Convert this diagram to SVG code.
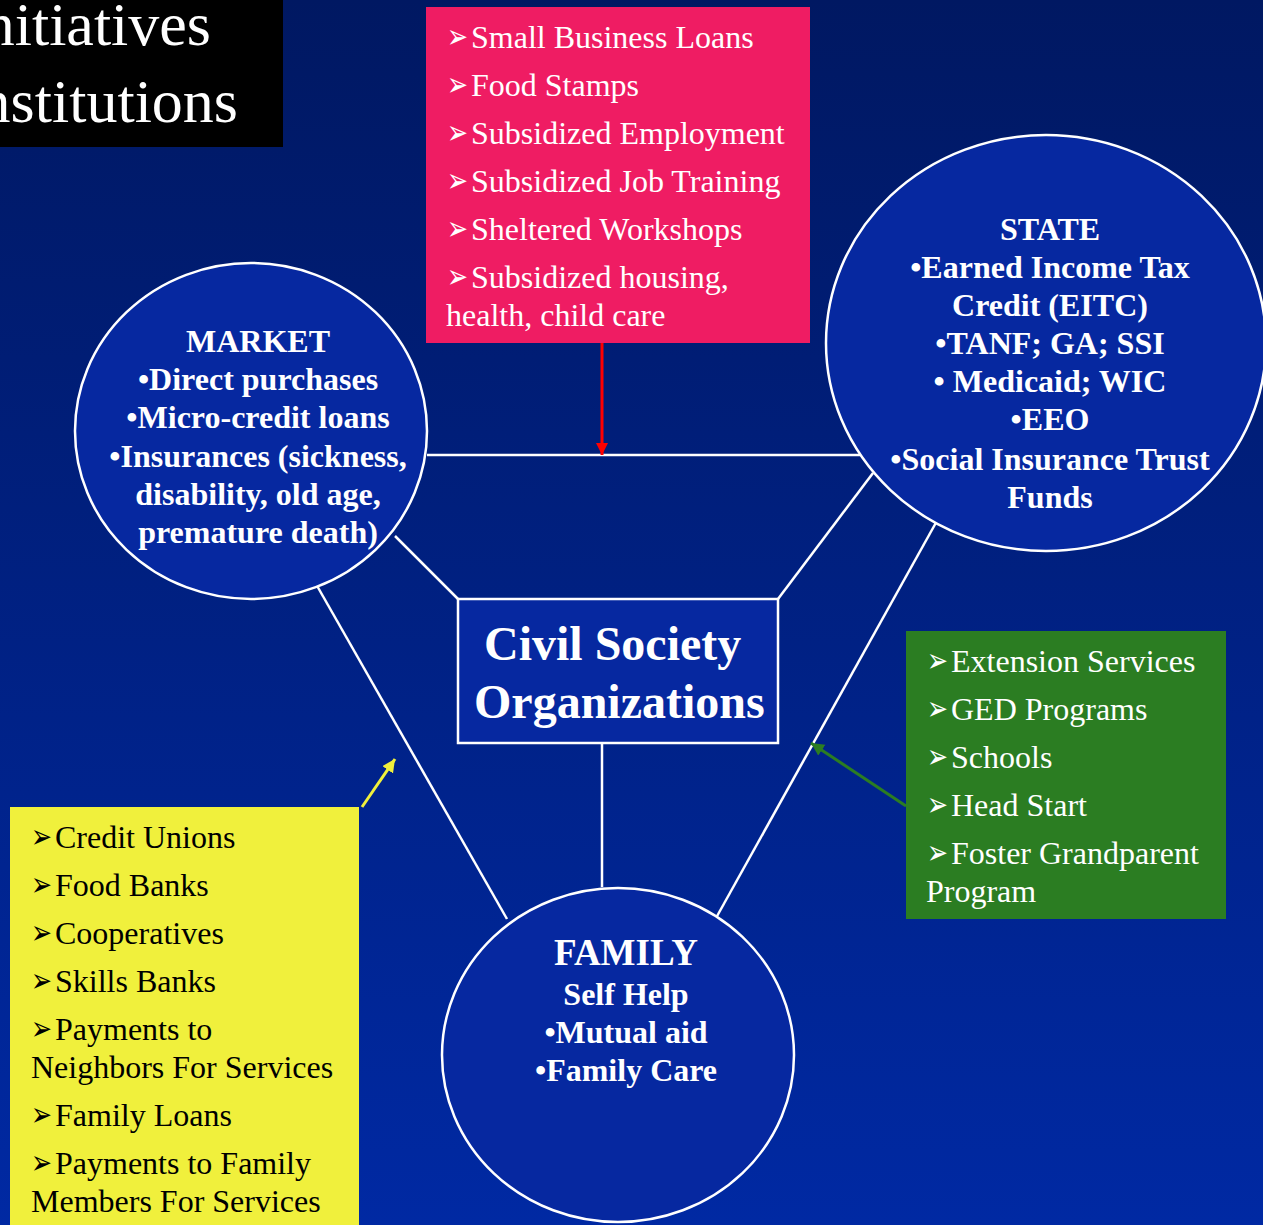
<svg xmlns="http://www.w3.org/2000/svg" width="1263" height="1225" viewBox="0 0 1263 1225">
<defs>
<linearGradient id="bg" x1="0" y1="0" x2="0" y2="1">
<stop offset="0" stop-color="#001862"/>
<stop offset="1" stop-color="#0029a3"/>
</linearGradient>
<marker id="mRed" markerUnits="userSpaceOnUse" markerWidth="14" markerHeight="14" refX="12" refY="6" orient="auto"><path d="M0,0 L12,6 L0,12 Z" fill="#ff0000"/></marker>
<marker id="mYel" markerUnits="userSpaceOnUse" markerWidth="16" markerHeight="16" refX="13" refY="6.5" orient="auto"><path d="M0,0 L13,6.5 L0,13 Z" fill="#f0f03c"/></marker>
<marker id="mGrn" markerUnits="userSpaceOnUse" markerWidth="16" markerHeight="16" refX="13" refY="6.5" orient="auto"><path d="M0,0 L13,6.5 L0,13 Z" fill="#2b7d22"/></marker>
</defs>
<style>
.node{fill:#0628a0;stroke:#ffffff;stroke-width:2.5}
.lst{font-family:"Liberation Serif","Times New Roman",serif;font-size:32px}
.w{fill:#ffffff}
.k{fill:#000000}
.b{font-family:"DejaVu Sans",sans-serif;font-size:34px}
.ctr{font-family:"Liberation Serif","Times New Roman",serif;font-size:32px;font-weight:bold;fill:#ffffff;text-anchor:middle}
.conn{stroke:#ffffff;stroke-width:2.5;fill:none}
</style>
<rect x="0" y="0" width="1263" height="1225" fill="url(#bg)"/>

<g id="title">
<rect x="0" y="0" width="283" height="147" fill="#000000"/>
<text x="211" y="45" font-family="Liberation Serif, serif" font-size="62" fill="#ffffff" text-anchor="end">Initiatives</text>
<text x="238" y="122" font-family="Liberation Serif, serif" font-size="62" fill="#ffffff" text-anchor="end">Institutions</text>
</g>

<g id="connectors">
<line class="conn" x1="427" y1="455" x2="860" y2="455"/>
<line class="conn" x1="395" y1="536" x2="458" y2="599"/>
<line class="conn" x1="873" y1="473" x2="778" y2="599"/>
<line class="conn" x1="316" y1="584" x2="507" y2="919"/>
<line class="conn" x1="938" y1="519" x2="716" y2="918"/>
<line class="conn" x1="602" y1="743" x2="602" y2="887"/>
<line x1="602" y1="343" x2="602" y2="455" stroke="#ff0000" stroke-width="3" marker-end="url(#mRed)"/>
<line x1="362" y1="807" x2="395" y2="759" stroke="#f0f03c" stroke-width="3" marker-end="url(#mYel)"/>
<line x1="906" y1="806" x2="811" y2="743" stroke="#2b7d22" stroke-width="3" marker-end="url(#mGrn)"/>
</g>

<g id="government-programs">
<rect x="426" y="7" width="384" height="336" fill="#ef1c63"/>
<text class="lst w" x="447" y="48"><tspan class="b" textLength="21" lengthAdjust="spacingAndGlyphs">➢</tspan><tspan x="471">Small Business Loans</tspan></text>
<text class="lst w" x="447" y="96"><tspan class="b" textLength="21" lengthAdjust="spacingAndGlyphs">➢</tspan><tspan x="471">Food Stamps</tspan></text>
<text class="lst w" x="447" y="144"><tspan class="b" textLength="21" lengthAdjust="spacingAndGlyphs">➢</tspan><tspan x="471">Subsidized Employment</tspan></text>
<text class="lst w" x="447" y="192"><tspan class="b" textLength="21" lengthAdjust="spacingAndGlyphs">➢</tspan><tspan x="471">Subsidized Job Training</tspan></text>
<text class="lst w" x="447" y="240"><tspan class="b" textLength="21" lengthAdjust="spacingAndGlyphs">➢</tspan><tspan x="471">Sheltered Workshops</tspan></text>
<text class="lst w" x="447" y="288"><tspan class="b" textLength="21" lengthAdjust="spacingAndGlyphs">➢</tspan><tspan x="471">Subsidized housing,</tspan></text>
<text class="lst w" x="446" y="326">health, child care</text>
</g>

<g id="market">
<ellipse class="node" cx="251" cy="431" rx="176" ry="168"/>
<text class="ctr" x="258" y="352">MARKET</text>
<text class="ctr" x="258" y="390">•Direct purchases</text>
<text class="ctr" x="258" y="428">•Micro-credit loans</text>
<text class="ctr" x="258" y="467">•Insurances (sickness,</text>
<text class="ctr" x="258" y="505">disability, old age,</text>
<text class="ctr" x="258" y="543">premature death)</text>
</g>

<g id="state">
<ellipse class="node" cx="1046" cy="343" rx="220" ry="208"/>
<text class="ctr" x="1050" y="240">STATE</text>
<text class="ctr" x="1050" y="278">•Earned Income Tax</text>
<text class="ctr" x="1050" y="316">Credit (EITC)</text>
<text class="ctr" x="1050" y="354">•TANF; GA; SSI</text>
<text class="ctr" x="1050" y="392">• Medicaid; WIC</text>
<text class="ctr" x="1050" y="430">•EEO</text>
<text class="ctr" x="1050" y="470">•Social Insurance Trust</text>
<text class="ctr" x="1050" y="508">Funds</text>
</g>

<g id="civil-society">
<rect class="node" x="458" y="599" width="320" height="144"/>
<text x="484" y="660" font-family="Liberation Serif, serif" font-size="48" font-weight="bold" fill="#ffffff">Civil Society</text>
<text x="474" y="718" font-family="Liberation Serif, serif" font-size="48" font-weight="bold" fill="#ffffff">Organizations</text>
</g>

<g id="family">
<ellipse class="node" cx="618" cy="1055" rx="176" ry="167"/>
<text class="ctr" x="626" y="965" style="font-size:37px">FAMILY</text>
<text class="ctr" x="626" y="1005">Self Help</text>
<text class="ctr" x="626" y="1043">•Mutual aid</text>
<text class="ctr" x="626" y="1081">•Family Care</text>
</g>

<g id="education-programs">
<rect x="906" y="631" width="320" height="288" fill="#2b7d22"/>
<text class="lst w" x="927" y="672"><tspan class="b" textLength="21" lengthAdjust="spacingAndGlyphs">➢</tspan><tspan x="951">Extension Services</tspan></text>
<text class="lst w" x="927" y="720"><tspan class="b" textLength="21" lengthAdjust="spacingAndGlyphs">➢</tspan><tspan x="951">GED Programs</tspan></text>
<text class="lst w" x="927" y="768"><tspan class="b" textLength="21" lengthAdjust="spacingAndGlyphs">➢</tspan><tspan x="951">Schools</tspan></text>
<text class="lst w" x="927" y="816"><tspan class="b" textLength="21" lengthAdjust="spacingAndGlyphs">➢</tspan><tspan x="951">Head Start</tspan></text>
<text class="lst w" x="927" y="864"><tspan class="b" textLength="21" lengthAdjust="spacingAndGlyphs">➢</tspan><tspan x="951">Foster Grandparent</tspan></text>
<text class="lst w" x="926" y="902">Program</text>
</g>

<g id="community-programs">
<rect x="10" y="807" width="349" height="430" fill="#f0f03c"/>
<text class="lst k" x="31" y="848"><tspan class="b" textLength="21" lengthAdjust="spacingAndGlyphs">➢</tspan><tspan x="55">Credit Unions</tspan></text>
<text class="lst k" x="31" y="896"><tspan class="b" textLength="21" lengthAdjust="spacingAndGlyphs">➢</tspan><tspan x="55">Food Banks</tspan></text>
<text class="lst k" x="31" y="944"><tspan class="b" textLength="21" lengthAdjust="spacingAndGlyphs">➢</tspan><tspan x="55">Cooperatives</tspan></text>
<text class="lst k" x="31" y="992"><tspan class="b" textLength="21" lengthAdjust="spacingAndGlyphs">➢</tspan><tspan x="55">Skills Banks</tspan></text>
<text class="lst k" x="31" y="1040"><tspan class="b" textLength="21" lengthAdjust="spacingAndGlyphs">➢</tspan><tspan x="55">Payments to</tspan></text>
<text class="lst k" x="31" y="1078">Neighbors For Services</text>
<text class="lst k" x="31" y="1126"><tspan class="b" textLength="21" lengthAdjust="spacingAndGlyphs">➢</tspan><tspan x="55">Family Loans</tspan></text>
<text class="lst k" x="31" y="1174"><tspan class="b" textLength="21" lengthAdjust="spacingAndGlyphs">➢</tspan><tspan x="55">Payments to Family</tspan></text>
<text class="lst k" x="31" y="1212">Members For Services</text>
</g>
</svg>
